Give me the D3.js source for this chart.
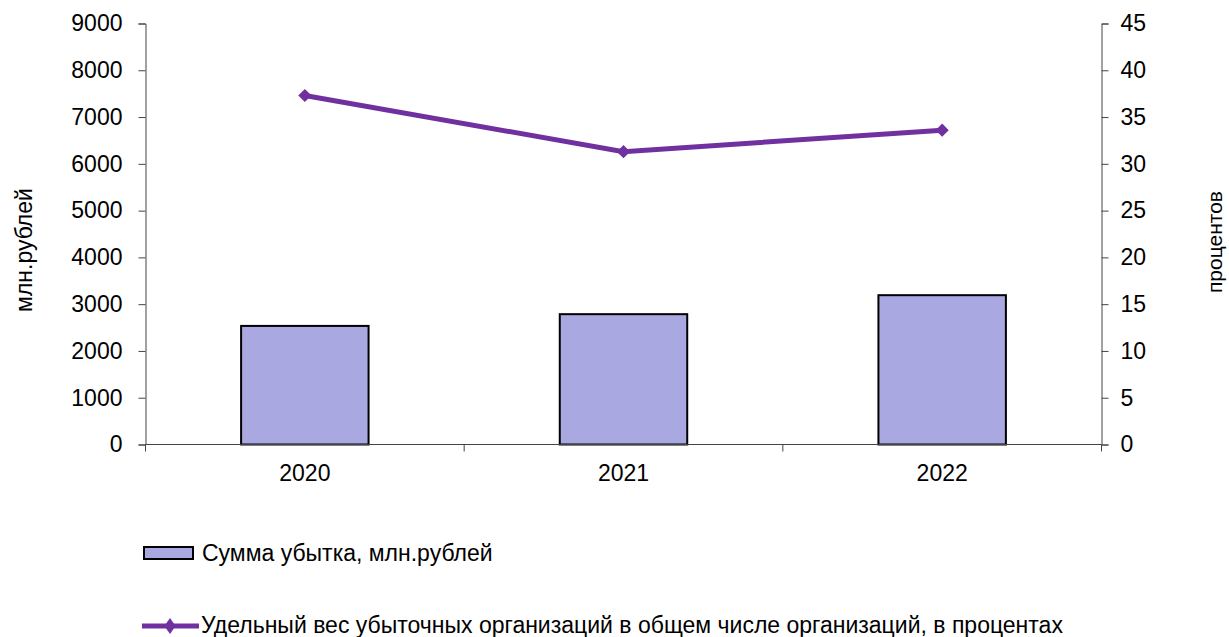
<!DOCTYPE html>
<html>
<head>
<meta charset="utf-8">
<script src="https://cdn.jsdelivr.net/npm/d3@7"></script>
<style>
  body { margin: 0; background: #fff; }
  svg text { font-family: "Liberation Sans", Arial, sans-serif; fill: #000; }
</style>
</head>
<body>
<div id="chart"></div>
<script>
const years = ['2020', '2021', '2022'];
const lossSum = [2535, 2786, 3192];          // млн.рублей
const lossShare = [37.3, 31.3, 33.6];        // процентов
const leftTicks = [0, 1000, 2000, 3000, 4000, 5000, 6000, 7000, 8000, 9000];
const rightTicks = [0, 5, 10, 15, 20, 25, 30, 35, 40, 45];

const width = 1229, height = 637;
const plot = {left: 145.5, right: 1101.5, top: 23.5, bottom: 444.5};
const fontSize = '23px';

const svg = d3.select('#chart').append('svg')
  .attr('width', width)
  .attr('height', height);

const x = d3.scaleBand().domain(years).range([plot.left, plot.right]).paddingInner(0).paddingOuter(0);
const yL = d3.scaleLinear().domain([0, 9000]).range([plot.bottom, plot.top]);
const yR = d3.scaleLinear().domain([0, 45]).range([plot.bottom, plot.top]);

const barW = x.bandwidth() * 0.4;

// bars
svg.append('g').selectAll('rect')
  .data(years)
  .enter()
  .append('rect')
  .attr('x', d => x(d) + (x.bandwidth() - barW) / 2)
  .attr('y', (d, i) => yL(lossSum[i]))
  .attr('width', barW)
  .attr('height', (d, i) => plot.bottom - yL(lossSum[i]))
  .attr('fill', '#aaa8e0')
  .attr('stroke', '#000')
  .attr('stroke-width', 2);

// left axis
const axL = svg.append('g')
  .attr('transform', `translate(${plot.left},0)`)
  .call(d3.axisLeft(yL).tickValues(leftTicks).tickSize(7).tickPadding(16).tickFormat(d3.format('d')));

// right axis
const axR = svg.append('g')
  .attr('transform', `translate(${plot.right},0)`)
  .call(d3.axisRight(yR).tickValues(rightTicks).tickSize(7).tickPadding(12));

// x axis
const axX = svg.append('g')
  .attr('transform', `translate(0,${plot.bottom})`)
  .call(d3.axisBottom(x).tickSize(0).tickPadding(20));

// category boundary ticks
svg.append('g').selectAll('line')
  .data(years.concat(['end']))
  .enter()
  .append('line')
  .attr('x1', (d, i) => i < years.length ? x(d) : plot.right)
  .attr('x2', (d, i) => i < years.length ? x(d) : plot.right)
  .attr('y1', plot.bottom)
  .attr('y2', plot.bottom + 7)
  .attr('stroke', '#444');

[axL, axR, axX].forEach(ax => {
  ax.selectAll('path, line').attr('stroke', '#444');
  ax.selectAll('text').style('font-size', fontSize).attr('fill', '#000');
});
axX.select('.domain').attr('d', `M${plot.left},0H${plot.right}`);

// line series
const line = d3.line()
  .x((d, i) => x(years[i]) + x.bandwidth() / 2)
  .y(d => yR(d));

svg.append('path')
  .datum(lossShare)
  .attr('d', line)
  .attr('fill', 'none')
  .attr('stroke', '#7030a0')
  .attr('stroke-width', 5);

const diamond = d3.symbol().type(d3.symbolDiamond2).size(110);

svg.append('g').selectAll('path')
  .data(lossShare)
  .enter()
  .append('path')
  .attr('d', diamond)
  .attr('transform', (d, i) => `translate(${x(years[i]) + x.bandwidth() / 2},${yR(d)})`)
  .attr('fill', '#7030a0');

// axis titles
svg.append('text')
  .attr('transform', 'translate(32,250) rotate(-90)')
  .attr('text-anchor', 'middle')
  .style('font-size', fontSize)
  .text('млн.рублей');

svg.append('text')
  .attr('transform', 'translate(1222,242) rotate(-90)')
  .attr('text-anchor', 'middle')
  .style('font-size', '21px')
  .text('процентов');

// legend
const legend = svg.append('g');
legend.append('rect')
  .attr('x', 144).attr('y', 547)
  .attr('width', 49).attr('height', 12)
  .attr('fill', '#aaa8e0')
  .attr('stroke', '#000')
  .attr('stroke-width', 2);
legend.append('text')
  .attr('x', 202).attr('y', 561)
  .style('font-size', fontSize)
  .text('Сумма убытка, млн.рублей');

legend.append('line')
  .attr('x1', 142).attr('x2', 199)
  .attr('y1', 626).attr('y2', 626)
  .attr('stroke', '#7030a0')
  .attr('stroke-width', 5);
legend.append('path')
  .attr('d', diamond)
  .attr('transform', 'translate(170,626) scale(0.85,1.2)')
  .attr('fill', '#7030a0');
legend.append('text')
  .attr('x', 201).attr('y', 633)
  .style('font-size', fontSize)
  .text('Удельный вес убыточных организаций в общем числе организаций, в процентах');
</script>
</body>
</html>
